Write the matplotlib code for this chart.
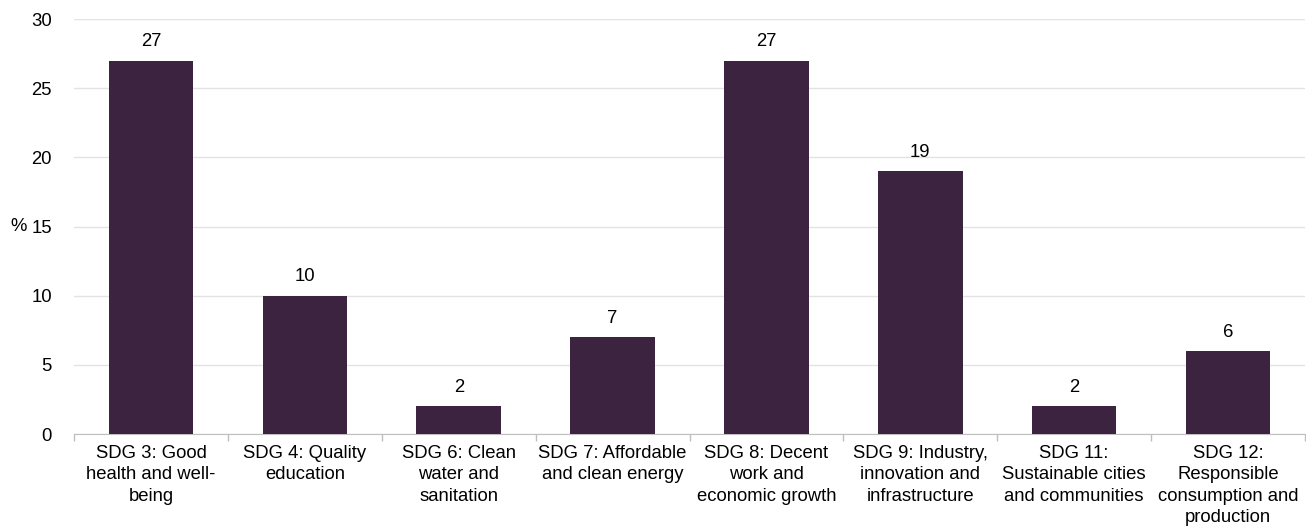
import numpy as np
import matplotlib.pyplot as plt

plt.rcParams['font.family'] = ['Liberation Sans', 'DejaVu Sans']

# data
categories = [
    "SDG 3: Good\nhealth and well-\nbeing",
    "SDG 4: Quality\neducation",
    "SDG 6: Clean\nwater and\nsanitation",
    "SDG 7: Affordable\nand clean energy",
    "SDG 8: Decent\nwork and\neconomic growth",
    "SDG 9: Industry,\ninnovation and\ninfrastructure",
    "SDG 11:\nSustainable cities\nand communities",
    "SDG 12:\nResponsible\nconsumption and\nproduction",
]
values = [27, 10, 2, 7, 27, 19, 2, 6]
yticks = [0, 5, 10, 15, 20, 25, 30]

bar_color = "#3c2441"
grid_color = "#e3e3e3"
axis_color = "#bfbfbf"
fs = 13.3

fig = plt.figure(figsize=(13.06, 5.30), dpi=100)
ax = fig.add_axes([0.0567, 0.181, 0.9425, 0.783])

x = np.arange(len(categories))
bars = ax.bar(x, values, width=0.55, color=bar_color, zorder=3)

for xi, v in zip(x, values):
    ax.annotate(str(v), (xi, v), xytext=(0, 7.5), textcoords="offset points",
                ha="center", va="bottom", fontsize=fs, color="#000000")

ax.set_xlim(-0.5, len(categories) - 0.5)
ax.set_ylim(0, 30)
ax.set_yticks(yticks)
ax.set_yticklabels([str(t) for t in yticks], fontsize=fs)
ax.yaxis.grid(True, color=grid_color, linewidth=1, zorder=0)
ax.set_axisbelow(True)

ax.set_xticks(x)
ax.set_xticklabels(categories, fontsize=fs, linespacing=1.32)
ax.set_xticks(np.arange(-0.5, len(categories)), minor=True)
ax.tick_params(axis="x", which="major", length=0, pad=8)
ax.tick_params(axis="x", which="minor", length=5, color=axis_color, width=1)
ax.tick_params(axis="y", length=0, pad=16)

for side in ["top", "right", "left"]:
    ax.spines[side].set_visible(False)
ax.spines["bottom"].set_color(axis_color)

ax.set_ylabel("%", rotation=0, fontsize=fs, va="center")
ax.yaxis.set_label_coords(-0.045, 0.5)

fig.savefig("out.png", dpi=100)
